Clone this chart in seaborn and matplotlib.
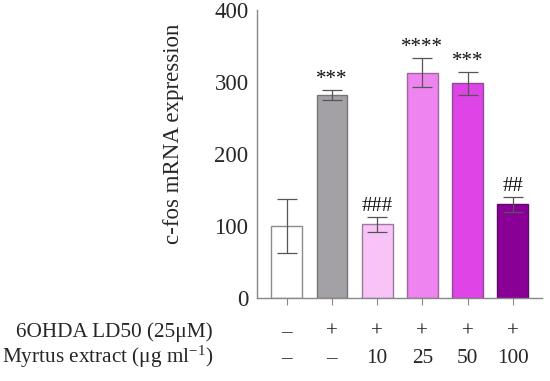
import numpy as np
import pandas as pd
import seaborn as sns
import matplotlib.pyplot as plt
from matplotlib.transforms import blended_transform_factory

# Valores
grupos = ['ctrl', '6OHDA', 'M10', 'M25', 'M50', 'M100']
expressao = [100, 282, 102, 313, 298, 130]
erro = [37, 7, 10, 20, 16, 10]
marcas = ['', '***', '###', '****', '***', '##']
ohda = ['–', '+', '+', '+', '+', '+']
myrtus = ['–', '–', '10', '25', '50', '100']
cores = ['#ffffff', '#a3a1a6', '#f8c4f7', '#ee84ef', '#de44e6', '#8a0097']
bordas = ['#8c8c8c', '#77737a', '#9a7a9c', '#9a6a9c', '#8f4a96', '#5e0a68']

sns.set_style('white')
plt.rcParams['font.family'] = ['Liberation Serif', 'DejaVu Serif']
plt.rcParams['mathtext.fontset'] = 'custom'
plt.rcParams['mathtext.rm'] = 'Liberation Serif'
plt.rcParams['mathtext.default'] = 'regular'

df = pd.DataFrame({'grupo': grupos, 'valor': expressao})

fig = plt.figure(figsize=(5.5, 3.81), dpi=100)
ax = fig.add_axes([0.467, 0.218, 0.518, 0.756])

sns.barplot(data=df, x='grupo', y='valor', hue='grupo', palette=cores,
            saturation=1, legend=False, width=0.68, ax=ax, linewidth=1)
for barra, borda in zip(ax.patches, bordas):
    barra.set_edgecolor(borda)

ax.errorbar(np.arange(len(grupos)), expressao, yerr=erro, fmt='none',
            ecolor='#555555', elinewidth=0.9, capsize=7, capthick=0.9)

for i, m in enumerate(marcas):
    if m:
        ax.text(i, expressao[i] + erro[i] + 15, m, ha='center', va='center',
                fontsize=15, color='#111111')

ax.set_ylim(0, 400)
ax.set_xlim(-0.66, 5.64)
ax.set_yticks([0, 100, 200, 300, 400])
ax.set_xticklabels([])
ax.set_xlabel('')
ax.set_ylabel('')
ax.tick_params(axis='y', labelsize=16.5, length=5, color='#888888', pad=1)
ax.tick_params(axis='x', length=5, color='#888888', bottom=True)
sns.despine(ax=ax)
for lado in ['left', 'bottom']:
    ax.spines[lado].set_color('#888888')
    ax.spines[lado].set_linewidth(1)

fig.text(173 / 550, 0.648, 'c-fos mRNA expression', rotation=90,
         ha='center', va='center', fontsize=16.5)

# linhas da tabela abaixo do eixo
trans = blended_transform_factory(ax.transData, fig.transFigure)
y1, y2 = 1 - 337 / 381, 1 - 363 / 381
fig.text(213 / 550, y1, '6OHDA LD50 (25μM)', ha='right', va='baseline', fontsize=15.3)
fig.text(213 / 550, y2, 'Myrtus extract (μg ml$^{-1}$)', ha='right', va='baseline', fontsize=15.3)
for i in range(len(grupos)):
    ax.text(i, y1, ohda[i], transform=trans, ha='center', va='baseline', fontsize=15.3)
    ax.text(i, y2, myrtus[i], transform=trans, ha='center', va='baseline', fontsize=15.3)

plt.savefig('out.png', dpi=100)
